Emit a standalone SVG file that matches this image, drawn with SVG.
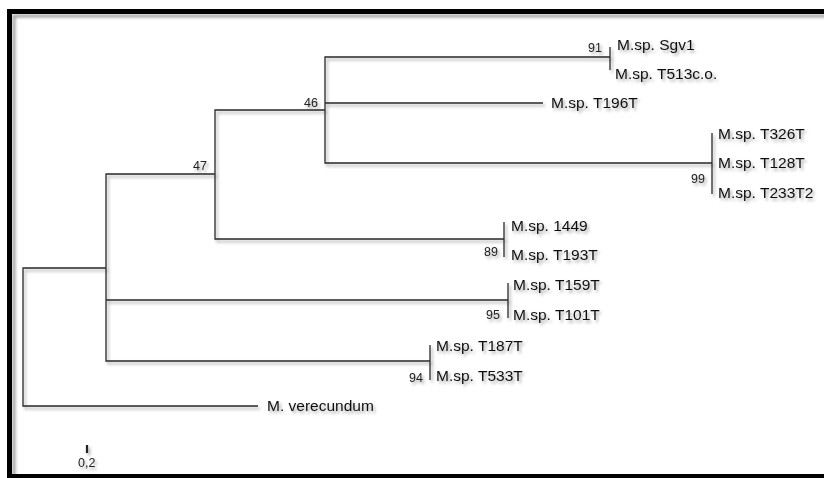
<svg xmlns="http://www.w3.org/2000/svg" width="824" height="478" viewBox="0 0 824 478">
<defs>
<filter id="sh" filterUnits="userSpaceOnUse" x="0" y="0" width="824" height="478">
<feDropShadow dx="2" dy="2.5" stdDeviation="1.6" flood-color="#000" flood-opacity="0.35"/>
</filter>
<filter id="blur" filterUnits="userSpaceOnUse" x="0" y="0" width="824" height="478">
<feGaussianBlur stdDeviation="1.8"/>
</filter>
<style>
.br{fill:none;stroke:#2a2a2a;stroke-width:1.3;filter:url(#sh)}
.lb{font-family:"Liberation Sans",Arial,sans-serif;font-size:15.5px;fill:#111;filter:url(#sh)}
.bs{font-family:"Liberation Sans",Arial,sans-serif;font-size:12.5px;fill:#222;filter:url(#sh)}
</style>
</defs>
<rect width="824" height="478" fill="#fff"/>
<rect x="14" y="16" width="830" height="470" fill="none" stroke="#9a9a9a" stroke-width="3" filter="url(#blur)"/>
<rect x="9.5" y="11.5" width="830" height="465" fill="none" stroke="#000" stroke-width="5"/>

<g id="connectors">
<path class="br" d="M106,268 H23 V406 H258"/>
<path class="br" d="M215,174 H106 V361 H430"/>
<path class="br" d="M106,300 H508"/>
<path class="br" d="M325,110 H215 V239 H504"/>
<path class="br" d="M610,57 H325 V163 H712"/>
<path class="br" d="M325,103 H543"/>
<path class="br" d="M610,47 V70"/>
<path class="br" d="M712,133 V194"/>
<path class="br" d="M504,222 V257"/>
<path class="br" d="M508,283 V318"/>
<path class="br" d="M430,345 V380"/>
<path d="M87,445 V453" stroke="#222" stroke-width="2.2" filter="url(#sh)"/>
</g>

<g id="bootstrap">
<text class="bs" x="304" y="107">46</text>
<text class="bs" x="193" y="170">47</text>
<text class="bs" x="588" y="52">91</text>
<text class="bs" x="691" y="183">99</text>
<text class="bs" x="484" y="256">89</text>
<text class="bs" x="486" y="319">95</text>
<text class="bs" x="409" y="382">94</text>
</g>

<g id="sgv1"><text class="lb" x="617" y="50">M.sp. Sgv1</text></g>
<g id="t513"><text class="lb" x="615" y="79">M.sp. T513c.o.</text></g>
<g id="t196"><text class="lb" x="551" y="108">M.sp. T196T</text></g>
<g id="t326"><text class="lb" x="718" y="139">M.sp. T326T</text></g>
<g id="t128"><text class="lb" x="718" y="168">M.sp. T128T</text></g>
<g id="t233"><text class="lb" x="718" y="198">M.sp. T233T2</text></g>
<g id="m1449"><text class="lb" x="511" y="231">M.sp. 1449</text></g>
<g id="t193"><text class="lb" x="511" y="260">M.sp. T193T</text></g>
<g id="t159"><text class="lb" x="513" y="290">M.sp. T159T</text></g>
<g id="t101"><text class="lb" x="513" y="320">M.sp. T101T</text></g>
<g id="t187"><text class="lb" x="436" y="351">M.sp. T187T</text></g>
<g id="t533"><text class="lb" x="436" y="381">M.sp. T533T</text></g>
<g id="verecundum"><text class="lb" x="267" y="411">M. verecundum</text></g>
<g id="scale"><text class="bs" x="78" y="467">0,2</text></g>
</svg>
